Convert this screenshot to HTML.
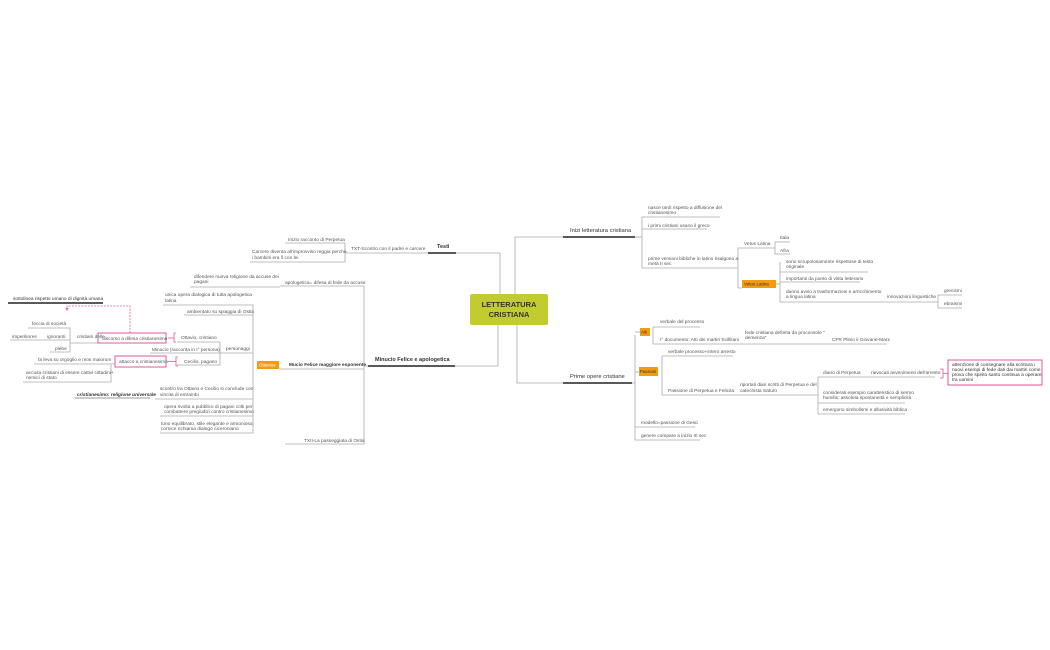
<!DOCTYPE html>
<html><head><meta charset="utf-8"><style>
html,body{margin:0;padding:0;background:#fff;width:1050px;height:650px;overflow:hidden}
svg{display:block}
text{font-family:"Liberation Sans",sans-serif;font-size:4.8px;fill:#555}
.b{font-weight:bold;fill:#333}
.m{font-size:6px;fill:#333}
</style></head><body>
<svg width="1050" height="650" viewBox="0 0 1050 650" xmlns="http://www.w3.org/2000/svg">
<g stroke="#aaa" stroke-width="0.8" fill="none">
<!-- center connectors -->
<path d="M500 294V253H456"/>
<path d="M515 294V237H563"/>
<path d="M498 325V366H455"/>
<path d="M517 325V383H563"/>
<!-- Testi -->
<path d="M345 253H428"/><path d="M285 243H345V262H250"/>
<!-- Minucio -->
<path d="M364 366H368"/>
<path d="M280 286H364V444H285"/><path d="M190 287H280"/>
<path d="M279 369H364"/>
<path d="M163 305H253V433H160"/><path d="M184 315H253"/><path d="M155 399H253"/><path d="M160 416H253"/>
<path d="M219 353H253"/>
<path d="M177 342H220V365H177"/><path d="M150 353H220"/>
<path d="M28 328H70V352H50"/><path d="M10 340H70"/><path d="M70 343H100"/>
<path d="M34 364H115"/><path d="M23 382H111V364"/>
<!-- Inizi -->
<path d="M635 237H642"/>
<path d="M642 217H720"/><path d="M642 217V268H738"/><path d="M642 229H707"/>
<path d="M738 248H775"/><path d="M738 248V288H742"/>
<path d="M775 242V254H790"/><path d="M775 242H790"/>
<path d="M776 284H780"/>
<path d="M780 272H868"/><path d="M780 262V302H938"/><path d="M780 282H860"/>
<path d="M938 295H962"/><path d="M938 295V308H962"/>
<!-- Prime -->
<path d="M632 383H635"/>
<path d="M635 335V440H700"/><path d="M635 427H695"/>
<path d="M635 332H640"/><path d="M635 372H639"/>
<path d="M653 327H700"/><path d="M653 327V344H887"/>
<path d="M662 356H733"/><path d="M662 356V395H818"/>
<path d="M818 377H935"/><path d="M818 377V414H905"/><path d="M818 403H905"/>
</g>
<g stroke="#222" stroke-width="1.6">
<path d="M428 253H456"/><path d="M368 366H455"/><path d="M563 237H635"/><path d="M563 383H632"/><path d="M8 303H103"/><path d="M75 398H150" stroke="#777" stroke-width="0.8"/>
</g>
<!-- center -->
<rect x="470" y="294" width="78" height="31" rx="2" fill="#c2cc2e"/>
<text x="509" y="307" text-anchor="middle" class="b" style="font-size:7.5px">LETTERATURA</text>
<text x="509" y="317" text-anchor="middle" class="b" style="font-size:7.5px">CRISTIANA</text>
<!-- main labels -->
<text x="437" y="248" class="b m" style="font-size:5.5px">Testi</text>
<text x="375" y="361" class="m" style="font-weight:bold;font-size:5.5px">Minucio Felice e apologetica</text>
<text x="570" y="232" class="m" style="font-size:5.8px">Inizi letteratura cristiana</text>
<text x="570" y="378" class="m" style="font-size:5.8px">Prime opere cristiane</text>
<!-- Testi -->
<text x="288" y="241">Inizio racconto di Perpetua</text>
<text x="252" y="253">Carcere diventa all'improvviso reggia perchè</text>
<text x="252" y="259">i bambini era lì con lei</text>
<text x="351" y="250">TXT-Scontro con il padre e carcere</text>
<!-- Minucio -->
<text x="285" y="284">apologetica= difesa di fede da accuse</text>
<text x="194" y="278">difendere nuova religione da accuse dei</text>
<text x="194" y="283">pagani</text>
<text x="289" y="366" class="b" style="font-size:4.8px">Mucio Felice maggiore esponente</text>
<text x="304" y="442">TXII-La passeggiata di Ostia</text>
<rect x="257" y="361" width="22" height="8" fill="#f39c12"/>
<text x="259" y="366.5" style="fill:#fff;font-size:4.5px">Ottavius</text>
<text x="165" y="296">unica opera dialogica di tutta apologetica</text>
<text x="165" y="302">latina</text>
<text x="187" y="313">ambientato su spiaggia di Ostia</text>
<text x="226" y="350">personaggi</text>
<text x="181" y="339">Ottavio, cristiano</text>
<text x="152" y="351">Minucio (racconta in I° persona)</text>
<text x="184" y="363">Cecilio, pagano</text>
<g stroke="#e05a96" stroke-width="0.8" fill="none">
<path d="M176 333H174V342H176"/><path d="M174 338H168"/>
<path d="M178 357H176V366H178"/><path d="M176 361.5H168"/>
<rect x="98" y="333" width="68" height="10" stroke-width="1"/>
<rect x="115" y="356" width="51" height="11" stroke-width="1"/>
<path d="M130 333V306H67V309" stroke-dasharray="2,1.2"/>
</g>
<path d="M65.5 308L67 311L68.5 308Z" fill="#e05a96"/>
<text x="102" y="340">discorso a difesa cristianesimo</text>
<text x="119" y="363">attacco a cristianesimo</text>
<text x="77" y="338">cristiani delle</text>
<text x="32" y="325">feccia di società</text>
<text x="47" y="338">ignoranti</text>
<text x="55" y="350">plebe</text>
<text x="12" y="338">imperitiores</text>
<text x="38" y="361">fa leva su orgoglio e mos maiorum</text>
<text x="26" y="374">accusa cristiani di essere cattivi cittadini+</text>
<text x="26" y="379">nemici di stato</text>
<text x="77" y="396" style="font-weight:bold;font-style:italic;fill:#333">cristianesimo: religione universale</text>
<text x="160" y="390">scontro tra Ottavio e Cecilio si conclude con</text>
<text x="160" y="396">vincita di entrambi</text>
<text x="164" y="408">opera rivolta a pubblico di pagani colti per</text>
<text x="164" y="413">combattere pregiudizi contro cristianesimo</text>
<text x="161" y="425">tono equilibrato, stile elegante e armonioso,</text>
<text x="161" y="430">cornice richiama dialogo ciceroniano</text>
<text x="13" y="300" style="fill:#333">sottolinea rispetto umano di dignità umana</text>
<!-- Inizi -->
<text x="648" y="209">nasce tardi rispetto a diffusione del</text>
<text x="648" y="214">cristianesimo</text>
<text x="648" y="227">i primi cristiani usano il greco</text>
<text x="648" y="260">prime versioni bibliche in latino risalgono a</text>
<text x="648" y="265">metà II sec</text>
<text x="744" y="245">Vetus Latina</text>
<text x="780" y="239">Itala</text>
<text x="780" y="252">Afra</text>
<rect x="742" y="280" width="34" height="8" fill="#f39c12"/>
<text x="744" y="285.5" style="fill:#333;font-size:4.5px">Vetus Latina</text>
<text x="786" y="263">sono scrupolosamente rispettose di testo</text>
<text x="786" y="268">originale</text>
<text x="786" y="280">importanti da punto di vista letterario</text>
<text x="786" y="293">danno avvio a trasformazioni e arricchimento</text>
<text x="786" y="298">a lingua latina</text>
<text x="887" y="298">innovazioni linguistiche</text>
<text x="944" y="292">grecismi</text>
<text x="944" y="305">ebraismi</text>
<!-- Prime -->
<rect x="640" y="328" width="10" height="8" fill="#f39c12"/>
<text x="641" y="333.5" style="fill:#333;font-size:4.3px">Atti</text>
<text x="660" y="323">verbale del processo</text>
<text x="660" y="341">I° documento: Atti dei martiri Scillitani</text>
<text x="745" y="334">fede cristiana definita da proconsole "</text>
<text x="745" y="339">demenza"</text>
<text x="832" y="341">CFR Plinio il Giovane-Marx</text>
<rect x="639" y="367" width="19" height="9" fill="#f39c12"/>
<text x="640" y="373" style="fill:#333;font-size:4.3px">Passioni</text>
<text x="668" y="353">verbale processo+intero arresto</text>
<text x="668" y="392">Passione di Perpetua e Felicita</text>
<text x="740" y="386">riportati diari scritti di Perpetua e del</text>
<text x="740" y="392">catechista Saturo</text>
<text x="823" y="374">diario di Perpetua</text>
<text x="871" y="374">rievocati avvenimenti dell'arresto</text>
<path d="M940 369H943V378H940M943 373.5H948" stroke="#e05a96" stroke-width="0.8" fill="none"/>
<rect x="948" y="360" width="94" height="25" fill="none" stroke="#e05a96" stroke-width="1"/>
<text x="952" y="366" style="fill:#333">attenzione di consegnare alla scrittura i</text>
<text x="952" y="371" style="fill:#333">nuovi esempi di fede dati dai martiri come</text>
<text x="952" y="376" style="fill:#333">prova che spirito santo continua a operare</text>
<text x="952" y="381" style="fill:#333">tra uomini</text>
<text x="823" y="394">considerati esempio caratteristico di sermo</text>
<text x="823" y="399">humilis: assoluta spontaneità e semplicità</text>
<text x="823" y="411">emergono simbolismi e allusività biblica</text>
<text x="641" y="424">modello=passione di Gesù</text>
<text x="641" y="437">genere compare a inizio III sec</text>
</svg>
</body></html>
